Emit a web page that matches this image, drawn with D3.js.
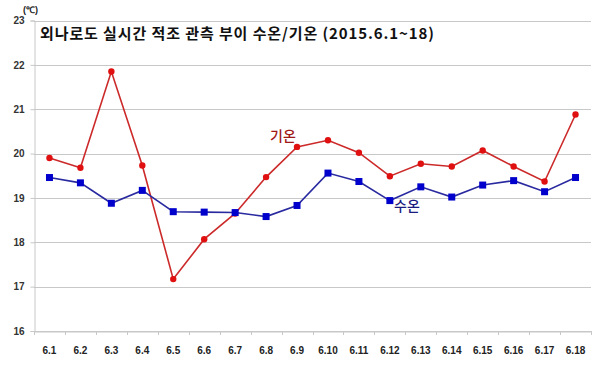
<!DOCTYPE html>
<html><head><meta charset="utf-8">
<script src="https://cdn.jsdelivr.net/npm/d3@7"></script>
<style>body{margin:0;background:#fff}svg{display:block}</style>
</head><body>
<svg id="c" width="601" height="367"></svg>
<script>
const categories = ["6.1","6.2","6.3","6.4","6.5","6.6","6.7","6.8","6.9","6.10","6.11","6.12","6.13","6.14","6.15","6.16","6.17","6.18"];
const airTemp = [19.9,19.68,21.85,19.73,17.17,18.07,18.65,19.47,20.15,20.3,20.02,19.49,19.77,19.71,20.07,19.71,19.37,20.88];
const waterTemp = [19.46,19.34,18.88,19.17,18.69,18.68,18.67,18.58,18.83,19.56,19.37,18.94,19.25,19.02,19.29,19.39,19.14,19.46];
const yTicks = [16,17,18,19,20,21,22,23];
const title = "외나로도 실시간 적조 관측 부이 수온/기온 (2015.6.1~18)";

const svg = d3.select("#c");
const L = 34, R = 591, T = 20.5, B = 331;
const x = d3.scaleBand().domain(categories).range([L, R]);
const y = d3.scaleLinear().domain([16, 23]).range([B, T]);

// gridlines
svg.append("g").selectAll("line").data(yTicks).join("line")
  .attr("x1", L).attr("x2", R)
  .attr("y1", d => Math.round(y(d)) + 0.5).attr("y2", d => Math.round(y(d)) + 0.5)
  .attr("stroke", "#c8c8c8").attr("stroke-width", 1.2);

// y axis
const ya = svg.append("g").attr("transform", `translate(${L + 0.5},0)`)
  .call(d3.axisLeft(y).tickValues(yTicks).tickFormat(d3.format("d")).tickSize(4).tickPadding(6));
ya.select(".domain").attr("stroke", "#c8c8c8");
ya.selectAll(".tick line").attr("stroke", "#c8c8c8");
ya.selectAll("text").attr("font-family", "Arial, 'Liberation Sans', sans-serif")
  .attr("font-size", 10).attr("font-weight", "bold").attr("fill", "#333");

// x axis
const xa = svg.append("g").attr("transform", `translate(0,${Math.round(B) + 0.5})`)
  .call(d3.axisBottom(x).tickSize(0).tickPadding(15));
xa.select(".domain").attr("stroke", "#c8c8c8");
xa.selectAll("text").attr("font-family", "Arial, 'Liberation Sans', sans-serif")
  .attr("font-size", 10).attr("font-weight", "bold").attr("fill", "#222");
// boundary ticks
svg.append("g").selectAll("line").data(d3.range(categories.length + 1)).join("line")
  .attr("x1", i => Math.round(L + i * x.step()) + 0.5).attr("x2", i => Math.round(L + i * x.step()) + 0.5)
  .attr("y1", B).attr("y2", B + 4).attr("stroke", "#c8c8c8");

const cx = d => x(d) + x.bandwidth() / 2;

// air temp line
const line = d3.line().x((d, i) => cx(categories[i])).y(d => y(d));
svg.append("path").datum(airTemp).attr("d", line)
  .attr("fill", "none").attr("stroke", "#cc2a2a").attr("stroke-width", 1.6);
svg.append("g").selectAll("circle").data(airTemp).join("circle")
  .attr("cx", (d, i) => cx(categories[i])).attr("cy", d => y(d)).attr("r", 3.2)
  .attr("fill", "#e01010");

// water temp line
svg.append("path").datum(waterTemp).attr("d", line)
  .attr("fill", "none").attr("stroke", "#2a2aa0").attr("stroke-width", 1.6);
svg.append("g").selectAll("rect").data(waterTemp).join("rect")
  .attr("x", (d, i) => cx(categories[i]) - 3.5).attr("y", d => y(d) - 3.5)
  .attr("width", 7).attr("height", 7).attr("fill", "#0000cc");

// labels
svg.append("text").attr("x", 270).attr("y", 141).text("기온")
  .attr("font-family", "'Noto Sans CJK KR', sans-serif").attr("font-size", 14)
  .attr("font-weight", 500).attr("fill", "#a01818");
svg.append("text").attr("x", 394).attr("y", 211).text("수온")
  .attr("font-family", "'Noto Sans CJK KR', sans-serif").attr("font-size", 14)
  .attr("font-weight", 500).attr("fill", "#1a1a80");

svg.append("text").attr("x", 40).attr("y", 39).text(title)
  .attr("font-family", "'Noto Sans CJK KR', sans-serif").attr("font-size", 15)
  .attr("letter-spacing", 0.9)
  .attr("font-weight", "bold").attr("fill", "#111");

svg.append("text").attr("x", 23).attr("y", 13).text("(℃)")
  .attr("font-family", "Arial, 'Liberation Sans', sans-serif").attr("font-size", 9)
  .attr("font-weight", "bold").attr("fill", "#222");
</script>
</body></html>
